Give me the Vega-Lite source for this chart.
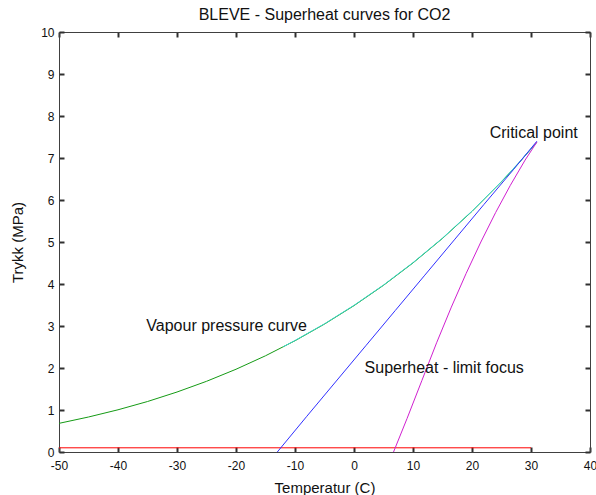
{
  "$schema": "https://vega.github.io/schema/vega-lite/v6.json",
  "width": 531,
  "height": 420,
  "autosize": "none",
  "padding": {"left": 59, "top": 32, "right": 6, "bottom": 43},
  "background": "white",
  "config": {
    "view": {"stroke": null},
    "font": "Liberation Sans",
    "axis": {
      "grid": false,
      "domainColor": "#404040",
      "labelFont": "Liberation Sans",
      "labelFontSize": 12,
      "labelColor": "#111111",
      "labelExpr": "datum.value + ''",
      "titleFont": "Liberation Sans",
      "titleFontSize": 15,
      "titleFontWeight": "normal",
      "titleColor": "#111111"
    }
  },
  "title": {
    "text": "BLEVE - Superheat curves for CO2",
    "font": "Liberation Sans",
    "fontSize": 16,
    "fontWeight": "normal",
    "color": "#111111",
    "offset": 3
  },
  "datasets": {
    "red": [
      {"T": -50, "P": 0.1}, {"T": 30, "P": 0.1}
    ],
    "green": [
      {"T": -50, "P": 0.682}, {"T": -45, "P": 0.833}, {"T": -40, "P": 1.005},
      {"T": -35, "P": 1.202}, {"T": -30, "P": 1.428}, {"T": -25, "P": 1.683},
      {"T": -20, "P": 1.970}, {"T": -15, "P": 2.291}, {"T": -10, "P": 2.649},
      {"T": -5, "P": 3.046}, {"T": 0, "P": 3.485}, {"T": 5, "P": 3.969},
      {"T": 10, "P": 4.502}, {"T": 15, "P": 5.086}, {"T": 20, "P": 5.729},
      {"T": 25, "P": 6.434}, {"T": 28, "P": 6.891}, {"T": 30, "P": 7.214},
      {"T": 31, "P": 7.377}
    ],
    "cyan": [
      {"T": -12, "P": 2.505}, {"T": -10, "P": 2.655}, {"T": -5, "P": 3.052},
      {"T": 0, "P": 3.492}, {"T": 5, "P": 3.976}, {"T": 10, "P": 4.509},
      {"T": 15, "P": 5.093}, {"T": 20, "P": 5.736}, {"T": 25, "P": 6.441},
      {"T": 28, "P": 6.898}, {"T": 30, "P": 7.22}, {"T": 31, "P": 7.38}
    ],
    "blue": [
      {"T": -13, "P": 0.0}, {"T": -8, "P": 0.85}, {"T": -3, "P": 1.69},
      {"T": 2, "P": 2.53}, {"T": 7, "P": 3.37}, {"T": 12, "P": 4.21},
      {"T": 17, "P": 5.05}, {"T": 22, "P": 5.89}, {"T": 27, "P": 6.72},
      {"T": 31, "P": 7.40}
    ],
    "magenta": [
      {"T": 6.7, "P": 0.0}, {"T": 9, "P": 0.8}, {"T": 11.5, "P": 1.7},
      {"T": 14, "P": 2.6}, {"T": 16.5, "P": 3.45}, {"T": 19, "P": 4.25},
      {"T": 21.5, "P": 5.0}, {"T": 24, "P": 5.7}, {"T": 26.5, "P": 6.35},
      {"T": 29, "P": 6.95}, {"T": 31, "P": 7.38}
    ],
    "labels": [
      {"T": 23.0, "P": 7.6, "label": "Critical point"},
      {"T": -35.2, "P": 3.0, "label": "Vapour pressure curve"},
      {"T": 1.8, "P": 2.0, "label": "Superheat - limit focus"}
    ]
  },
  "layer": [
    {
      "data": {"name": "red"},
      "mark": {"type": "line", "color": "#ff0000", "strokeWidth": 1},
      "encoding": {
        "x": {"field": "T", "type": "quantitative",
              "scale": {"domain": [-50, 40], "nice": false, "zero": false},
              "axis": {"orient": "bottom", "title": "Temperatur (C)", "values": [-50,-40,-30,-20,-10,0,10,20,30,40], "ticks": true, "tickSize": -5, "tickColor": "#303030", "tickWidth": 2, "labelPadding": 13, "titlePadding": 9, "labelFlush": false}},
        "y": {"field": "P", "type": "quantitative",
              "scale": {"domain": [0, 10], "nice": false, "zero": false},
              "axis": {"orient": "left", "title": "Trykk (MPa)", "values": [0,1,2,3,4,5,6,7,8,9,10], "ticks": true, "tickSize": -5, "tickColor": "#303030", "tickWidth": 2, "labelPadding": 10, "titlePadding": 15, "labelFlush": false}}
      }
    },
    {
      "data": {"name": "green"},
      "mark": {"type": "line", "color": "#159b15", "strokeWidth": 1},
      "encoding": {
        "x": {"field": "T", "type": "quantitative", "axis": null},
        "y": {"field": "P", "type": "quantitative", "axis": null}
      }
    },
    {
      "data": {"name": "cyan"},
      "mark": {"type": "line", "color": "#3fd6cc", "strokeWidth": 1},
      "encoding": {
        "x": {"field": "T", "type": "quantitative", "axis": null},
        "y": {"field": "P", "type": "quantitative", "axis": null}
      }
    },
    {
      "data": {"name": "blue"},
      "mark": {"type": "line", "color": "#3030ff", "strokeWidth": 1},
      "encoding": {
        "x": {"field": "T", "type": "quantitative",
              "axis": {"orient": "top", "title": null, "labels": false, "domain": true, "ticks": true, "tickSize": -5, "tickColor": "#303030", "tickWidth": 2, "values": [-50,-40,-30,-20,-10,0,10,20,30,40]}},
        "y": {"field": "P", "type": "quantitative",
              "axis": {"orient": "right", "title": null, "labels": false, "domain": true, "ticks": true, "tickSize": -5, "tickColor": "#303030", "tickWidth": 2, "values": [0,1,2,3,4,5,6,7,8,9,10]}}
      }
    },
    {
      "data": {"name": "magenta"},
      "mark": {"type": "line", "color": "#d020d0", "strokeWidth": 1},
      "encoding": {
        "x": {"field": "T", "type": "quantitative", "axis": null},
        "y": {"field": "P", "type": "quantitative", "axis": null}
      }
    },
    {
      "data": {"name": "labels"},
      "mark": {"type": "text", "align": "left", "baseline": "middle", "fontSize": 16, "font": "Liberation Sans", "color": "#111111"},
      "encoding": {
        "x": {"field": "T", "type": "quantitative", "axis": null},
        "y": {"field": "P", "type": "quantitative", "axis": null},
        "text": {"field": "label", "type": "nominal"}
      }
    }
  ],
  "resolve": {"axis": {"x": "independent", "y": "independent"}}
}
